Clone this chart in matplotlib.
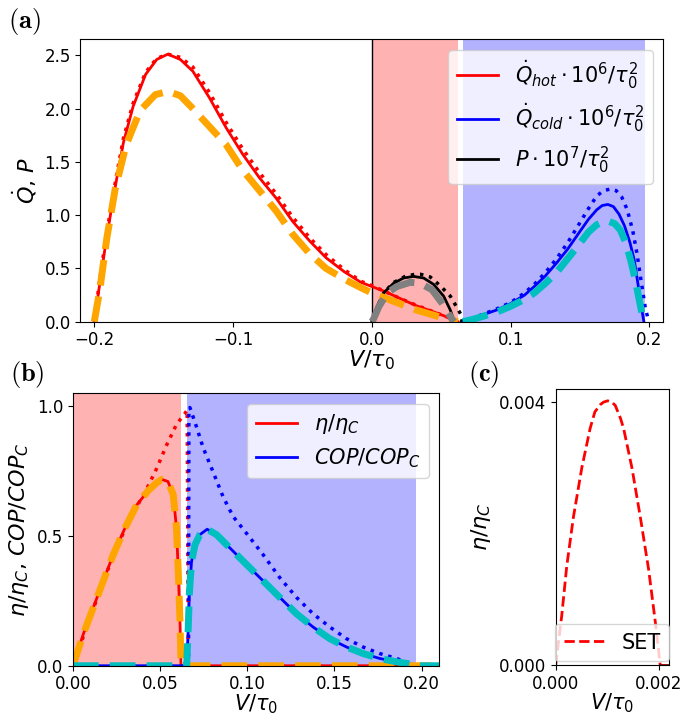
import matplotlib
matplotlib.use('Agg')
import matplotlib.pyplot as plt

# ---- panel (a): heat currents and power ----
v_hot = [-0.200, -0.196, -0.192, -0.188, -0.184, -0.179, -0.172, -0.163, -0.155, -0.147,
         -0.138, -0.129, -0.117, -0.105, -0.093, -0.081, -0.069, -0.057, -0.045, -0.033,
         -0.020, -0.008, 0.000, 0.010, 0.020, 0.032, 0.045, 0.055, 0.062]
q_hot = [0.00, 0.36, 0.71, 1.03, 1.33, 1.68, 2.02, 2.32, 2.46, 2.51,
         2.46, 2.35, 2.10, 1.82, 1.57, 1.35, 1.16, 0.94, 0.76, 0.60,
         0.47, 0.37, 0.33, 0.28, 0.22, 0.15, 0.09, 0.04, 0.00]
q_hot_dot = [0.00, 0.40, 0.75, 1.07, 1.37, 1.72, 2.05, 2.34, 2.47, 2.51,
             2.48, 2.39, 2.15, 1.87, 1.62, 1.40, 1.20, 0.98, 0.79, 0.63,
             0.49, 0.38, 0.34, 0.28, 0.22, 0.155, 0.09, 0.04, 0.00]

v_hot_set = [-0.200, -0.196, -0.191, -0.185, -0.177, -0.167, -0.156, -0.147, -0.138, -0.129,
             -0.117, -0.105, -0.093, -0.081, -0.069, -0.057, -0.045, -0.033, -0.020, -0.008,
             0.000, 0.010, 0.020, 0.032, 0.045, 0.055, 0.062]
q_hot_set = [0.00, 0.30, 0.78, 1.24, 1.66, 1.98, 2.13, 2.16, 2.12, 2.00,
             1.83, 1.66, 1.42, 1.23, 1.04, 0.82, 0.64, 0.50, 0.40, 0.32,
             0.27, 0.22, 0.17, 0.11, 0.06, 0.02, 0.00]

v_cold = [0.0645, 0.072, 0.080, 0.090, 0.100, 0.110, 0.117, 0.125, 0.133, 0.141, 0.149,
          0.156, 0.162, 0.166, 0.170, 0.174, 0.178, 0.182, 0.186, 0.189, 0.192, 0.194, 0.196]
q_cold = [0.0, 0.03, 0.066, 0.11, 0.17, 0.25, 0.33, 0.43, 0.55, 0.68, 0.83,
          0.96, 1.05, 1.09, 1.10, 1.08, 1.01, 0.90, 0.74, 0.58, 0.33, 0.15, 0.0]

v_cold_dot = [0.0645, 0.072, 0.080, 0.090, 0.100, 0.110, 0.117, 0.125, 0.133, 0.141, 0.149,
              0.156, 0.162, 0.167, 0.172, 0.176, 0.180, 0.184, 0.188, 0.191, 0.194, 0.197, 0.1995]
q_cold_dot = [0.0, 0.03, 0.07, 0.12, 0.18, 0.27, 0.35, 0.46, 0.59, 0.74, 0.91,
              1.06, 1.18, 1.23, 1.245, 1.23, 1.17, 1.05, 0.85, 0.64, 0.38, 0.13, 0.0]

v_cold_set = [0.0655, 0.072, 0.080, 0.090, 0.100, 0.110, 0.117, 0.125, 0.133, 0.141, 0.149,
              0.156, 0.162, 0.167, 0.171, 0.175, 0.179, 0.183, 0.187, 0.190, 0.193, 0.195, 0.196]
q_cold_set = [0.0, 0.02, 0.05, 0.09, 0.145, 0.21, 0.27, 0.36, 0.46, 0.59, 0.72,
              0.84, 0.91, 0.94, 0.94, 0.92, 0.86, 0.74, 0.55, 0.38, 0.18, 0.05, 0.0]

v_pow = [0.0, 0.0036, 0.0084, 0.0156, 0.0228, 0.030, 0.0373, 0.0445, 0.0517, 0.0565, 0.0594]
p_pow = [0.0, 0.14, 0.27, 0.36, 0.41, 0.425, 0.41, 0.35, 0.24, 0.11, 0.0]

v_pow_dot = [0.0, 0.004, 0.009, 0.016, 0.024, 0.031, 0.035, 0.042, 0.049, 0.0565, 0.061, 0.0642, 0.065]
p_pow_dot = [0.0, 0.14, 0.28, 0.37, 0.425, 0.445, 0.445, 0.42, 0.34, 0.24, 0.14, 0.066, 0.0]

v_pow_set = [0.0, 0.001, 0.005, 0.011, 0.018, 0.0276, 0.0348, 0.0433, 0.0505, 0.0565, 0.059]
p_pow_set = [0.0, 0.02, 0.14, 0.27, 0.33, 0.37, 0.36, 0.30, 0.175, 0.05, 0.0]

# ---- panel (b): efficiencies ----
v_eta = [0.0, 0.006, 0.0117, 0.0174, 0.0231, 0.0298, 0.0365, 0.0432, 0.048, 0.051,
         0.0545, 0.0575, 0.0594, 0.0604, 0.0614, 0.0620, 0.066, 0.21]
eta = [0.0, 0.123, 0.225, 0.327, 0.428, 0.53, 0.619, 0.675, 0.705, 0.718,
       0.71, 0.66, 0.53, 0.365, 0.174, 0.0, 0.0, 0.0]

v_eta_dot = [0.0, 0.01, 0.02, 0.03, 0.038, 0.0422, 0.048, 0.0537, 0.0594, 0.0640, 0.0655, 0.0662]
eta_dot = [0.0, 0.19, 0.37, 0.53, 0.63, 0.68, 0.76, 0.85, 0.93, 0.97, 0.985, 0.0]

v_cop = [0.0, 0.0652, 0.0660, 0.0668, 0.0680, 0.0700, 0.0728, 0.0770, 0.0824, 0.090, 0.0996,
         0.1091, 0.1187, 0.1283, 0.1378, 0.1474, 0.157, 0.1665, 0.176, 0.1856, 0.1952, 0.197, 0.21]
cop = [0.0, 0.0, 0.12, 0.28, 0.40, 0.466, 0.505, 0.526, 0.505, 0.454, 0.39,
       0.327, 0.263, 0.20, 0.149, 0.104, 0.072, 0.047, 0.028, 0.015, 0.005, 0.0, 0.0]

v_cop_dot = [0.0663, 0.0665, 0.0671, 0.0709, 0.0747, 0.0805, 0.0862, 0.0919, 0.0996, 0.1091,
             0.1187, 0.1283, 0.1378, 0.1474, 0.157, 0.1665, 0.176, 0.1856, 0.1933, 0.1955]
cop_dot = [0.0, 0.99, 0.995, 0.92, 0.84, 0.745, 0.65, 0.575, 0.51, 0.428,
           0.339, 0.263, 0.20, 0.149, 0.104, 0.072, 0.047, 0.028, 0.009, 0.0]

# ---- panel (c): SET efficiency ----
v_set = [0.0, 0.000117, 0.000214, 0.000344, 0.000507, 0.000669, 0.00076, 0.000864, 0.00093,
         0.00101, 0.00109, 0.001157, 0.00126, 0.001319, 0.001481, 0.001644, 0.001806,
         0.001936, 0.00203]
eta_set = [0.0, 0.00075, 0.0015, 0.00225, 0.0030, 0.0036, 0.00385, 0.00396, 0.00400,
           0.00402, 0.00400, 0.00395, 0.00375, 0.0036, 0.0030, 0.00225, 0.00145,
           0.00065, 0.0]
v_set_tail = [0.00203, 0.0022]
eta_set_tail = [0.0, 0.0]

hot_region = (0.0, 0.062)
cold_region = (0.0655, 0.197)

fig = plt.figure(figsize=(6.99, 7.17), dpi=100)
ax_a = fig.add_axes([0.115, 0.5513, 0.834, 0.394])
ax_b = fig.add_axes([0.1044, 0.0715, 0.5236, 0.380])
ax_c = fig.add_axes([0.795, 0.0725, 0.162, 0.385])

# (a)
ax_a.axvspan(*hot_region, color='r', alpha=0.3, lw=0)
ax_a.axvspan(*cold_region, color='b', alpha=0.3, lw=0)
ax_a.axvline(0, color='k', lw=1)
ax_a.plot(v_hot, q_hot, 'r-', lw=2, label=r'$\dot{Q}_{hot}\cdot10^6/\tau_0^2$')
ax_a.plot(v_cold, q_cold, 'b-', lw=2, label=r'$\dot{Q}_{cold}\cdot10^6/\tau_0^2$')
ax_a.plot(v_pow, p_pow, 'k-', lw=2, label=r'$P\cdot10^7/\tau_0^2$')
ax_a.plot(v_hot, q_hot_dot, 'r:', lw=2.5)
ax_a.plot(v_cold_dot, q_cold_dot, 'b:', lw=2.5)
ax_a.plot(v_pow_dot, p_pow_dot, 'k:', lw=2.5)
ax_a.plot(v_hot_set, q_hot_set, '--', color='orange', lw=5)
ax_a.plot(v_cold_set, q_cold_set, '--', color='c', lw=5)
ax_a.plot(v_pow_set, p_pow_set, '--', color='gray', lw=5)
ax_a.set_xlim(-0.21, 0.21)
ax_a.set_ylim(0, 2.65)
ax_a.set_xticks([-0.2, -0.1, 0.0, 0.1, 0.2])
ax_a.set_yticks([0.0, 0.5, 1.0, 1.5, 2.0, 2.5])
ax_a.tick_params(labelsize=12)
ax_a.set_xlabel(r'$V/\tau_0$', fontsize=16, labelpad=-1)
ax_a.set_ylabel(r'$\dot{Q}$, $P$', fontsize=16)
ax_a.legend(loc='upper right', fontsize=15)

# (b)
ax_b.axvspan(*hot_region, color='r', alpha=0.3, lw=0)
ax_b.axvspan(*cold_region, color='b', alpha=0.3, lw=0)
ax_b.plot(v_eta, eta, 'r-', lw=2, label=r'$\eta/\eta_C$')
ax_b.plot(v_cop, cop, 'b-', lw=2, label=r'$COP/COP_C$')
ax_b.plot(v_eta_dot, eta_dot, 'r:', lw=2.5)
ax_b.plot(v_cop_dot, cop_dot, 'b:', lw=2.5)
ax_b.plot(v_eta, eta, '--', color='orange', lw=5)
ax_b.plot(v_cop, cop, '--', color='c', lw=5)
ax_b.set_xlim(0, 0.21)
ax_b.set_ylim(0, 1.05)
ax_b.set_xticks([0.0, 0.05, 0.10, 0.15, 0.20])
ax_b.set_xticklabels(['0.00', '0.05', '0.10', '0.15', '0.20'])
ax_b.set_yticks([0.0, 0.5, 1.0])
ax_b.tick_params(labelsize=12)
ax_b.set_xlabel(r'$V/\tau_0$', fontsize=15, labelpad=-1)
ax_b.set_ylabel(r'$\eta/\eta_C$, $COP/COP_C$', fontsize=16)
ax_b.legend(loc='upper right', fontsize=15)

# (c)
ax_c.plot(v_set, eta_set, 'r--', lw=2, label='SET')
ax_c.plot(v_set_tail, eta_set_tail, '-', color='darkred', lw=2)
ax_c.set_xlim(0, 0.0022)
ax_c.set_ylim(0, 0.0042)
ax_c.set_xticks([0.0, 0.002])
ax_c.set_xticklabels(['0.000', '0.002'])
ax_c.set_yticks([0.0, 0.004])
ax_c.set_yticklabels(['0.000', '0.004'])
ax_c.tick_params(labelsize=12)
ax_c.set_xlabel(r'$V/\tau_0$', fontsize=15, labelpad=-1)
ax_c.set_ylabel(r'$\eta/\eta_C$', fontsize=16)
ax_c.legend(loc='lower center', fontsize=15, borderaxespad=0.2)

# panel letters
fig.text(0.012, 0.970, r'$\mathbf{(a)}$', fontsize=19, math_fontfamily='cm', va='center')
fig.text(0.014, 0.478, r'$\mathbf{(b)}$', fontsize=19, math_fontfamily='cm', va='center')
fig.text(0.670, 0.478, r'$\mathbf{(c)}$', fontsize=19, math_fontfamily='cm', va='center')

fig.savefig('out.png', dpi=100)
